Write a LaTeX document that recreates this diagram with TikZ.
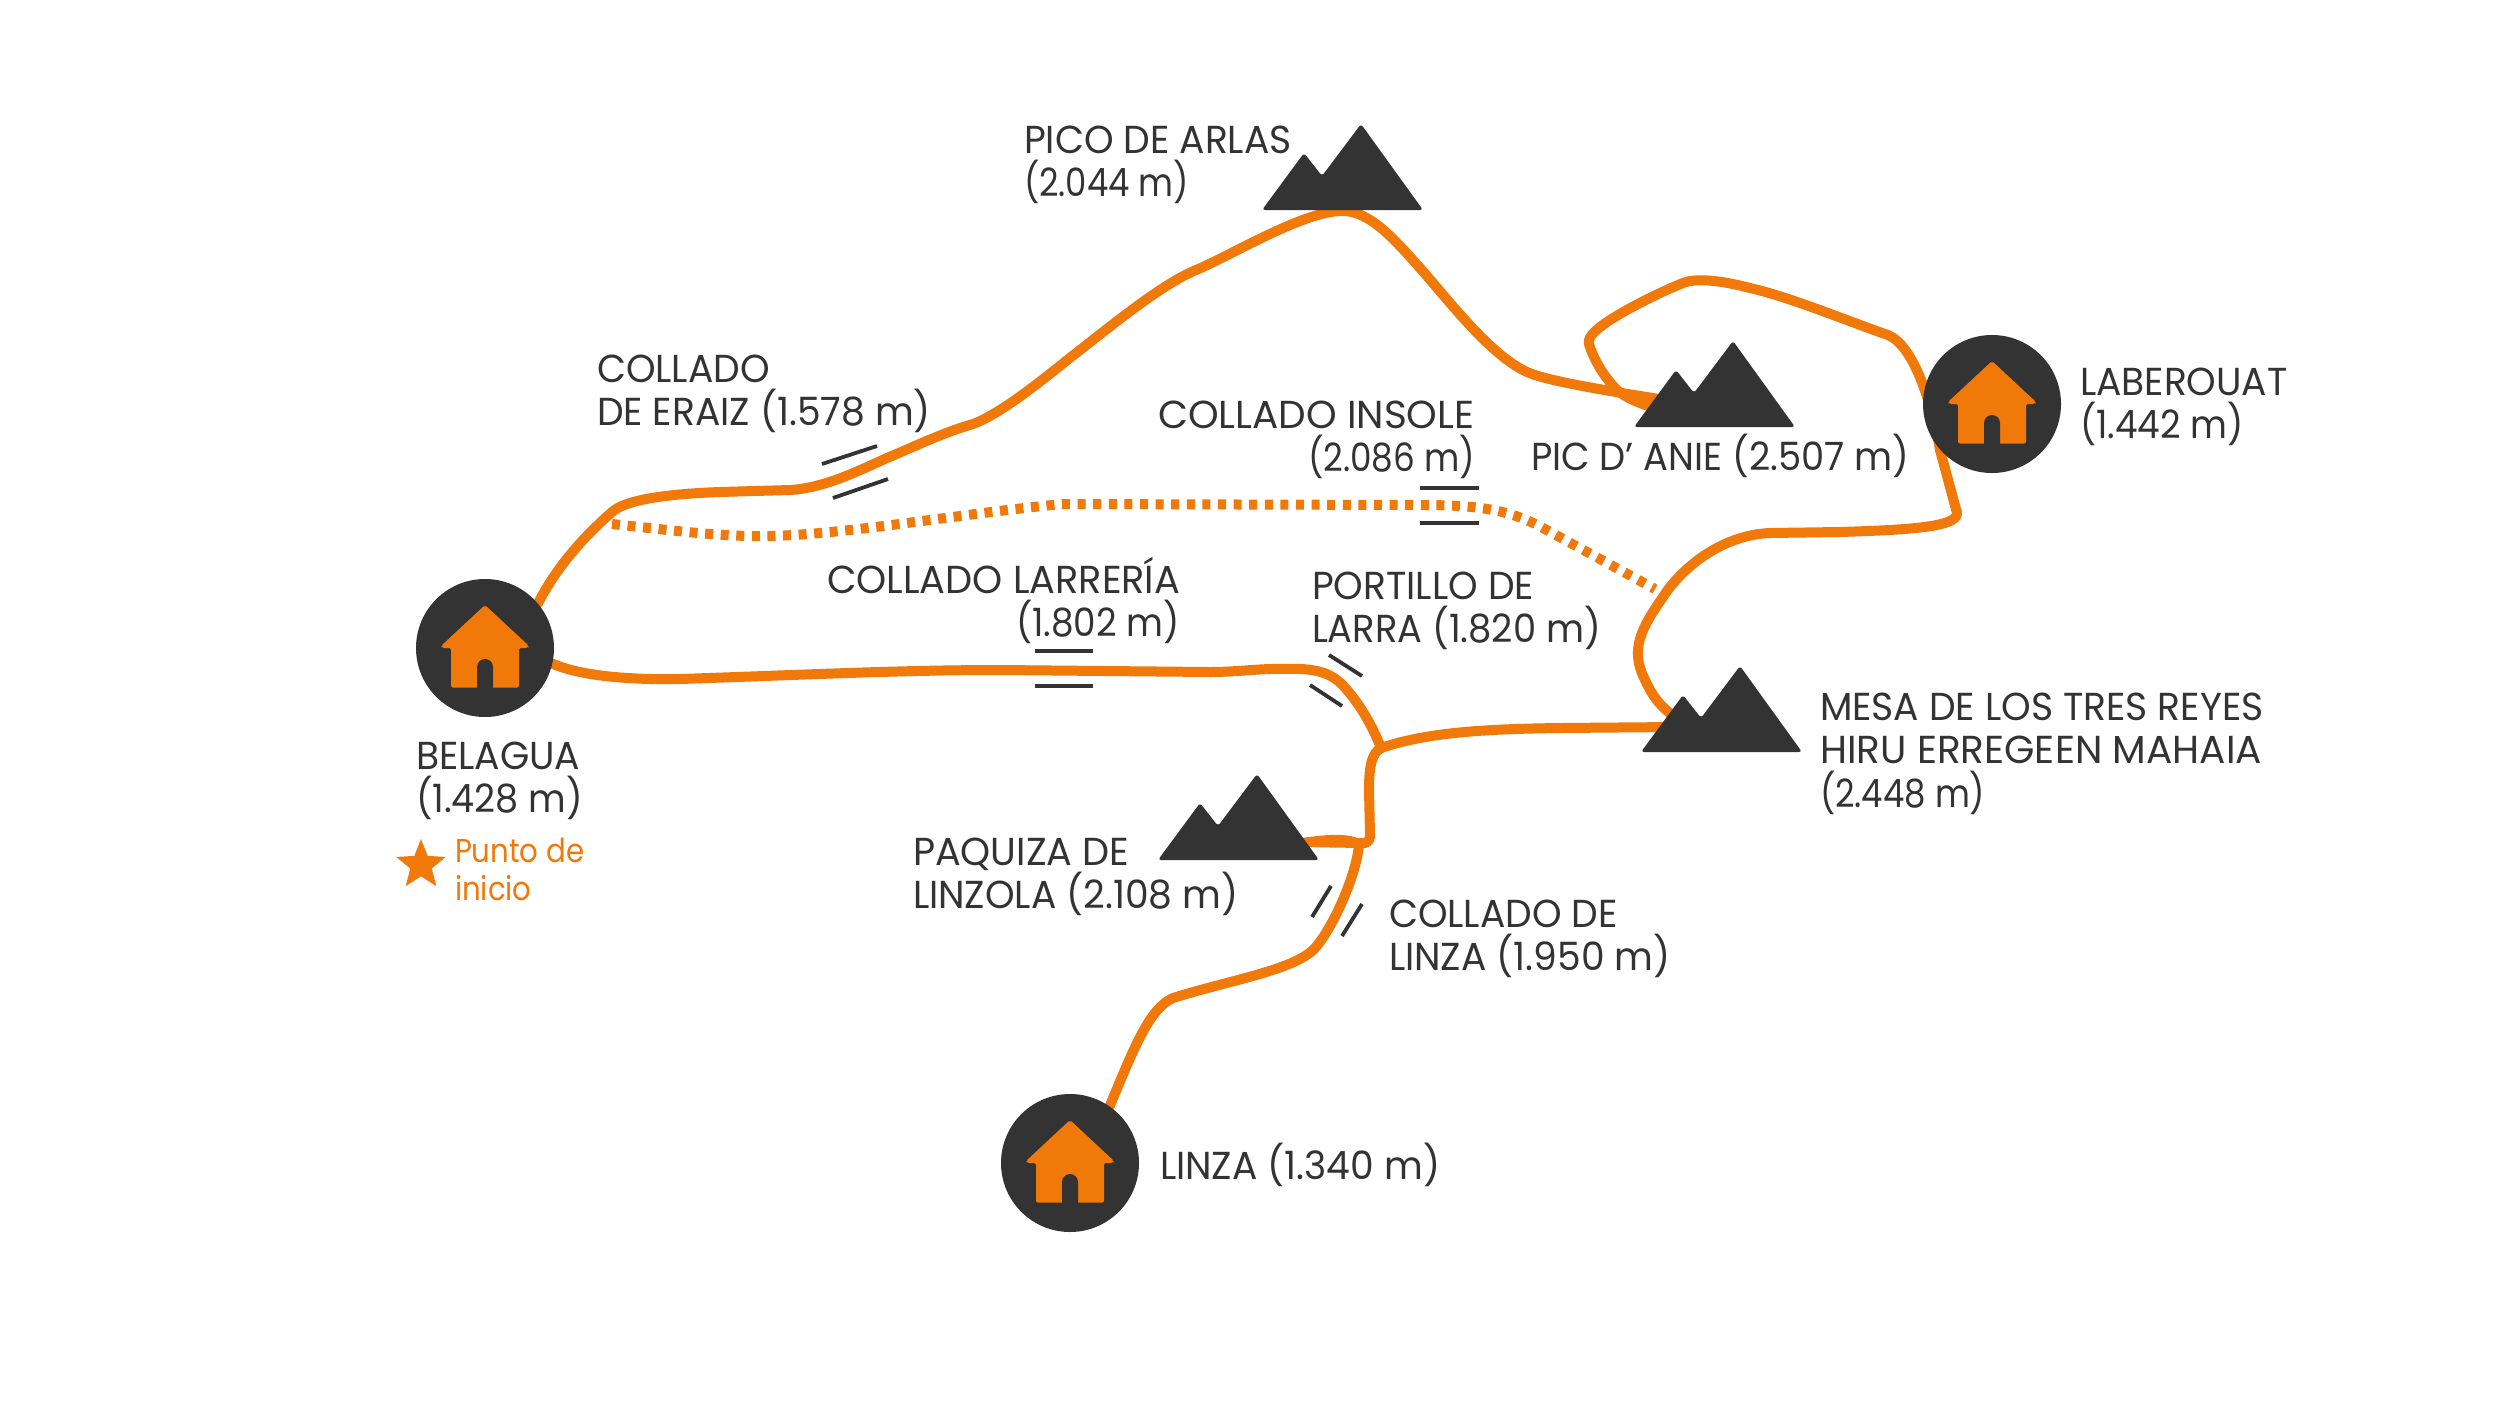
\documentclass[tikz,border=0pt]{standalone}
\usepackage{fontspec}
\usepackage{graphicx}
\usetikzlibrary{backgrounds,shapes.geometric}
\setmainfont[FakeStretch=0.965]{Poppins}
\newfontfamily\startfont[FakeStretch=0.885]{Poppins}
\definecolor{routeor}{HTML}{F0790A}
\definecolor{darkgr}{HTML}{333333}
\newcommand{\sx}[2]{\scalebox{#1}[1]{#2}}
\newcommand{\twolines}[2]{\vtop{\baselineskip=43.5pt\hbox{#1}\hbox{#2}}}
\newcommand{\threelines}[3]{\vtop{\baselineskip=43.5pt\hbox{#1}\hbox{#2}\hbox{#3}}}
\tikzset{
  lbl/.style={anchor=base west,inner sep=0pt,outer sep=0pt,text=darkgr,font=\fontsize{39}{43.5}\selectfont},
  startlbl/.style={anchor=base west,inner sep=0pt,outer sep=0pt,text=routeor,font=\startfont\fontsize{33}{38}\selectfont},
  disc/.style={circle,fill=darkgr,minimum size=138pt,inner sep=0pt,outer sep=0pt},
  routeline/.style={draw=routeor,line width=10pt,line join=round,line cap=round},
  dotline/.style={draw=routeor,line width=10pt,dash pattern=on 8pt off 7.6pt},
  tickline/.style={draw=darkgr,line width=3.8pt},
  housepic/.pic={
    \fill[routeor,rounded corners=2pt] (0,-43) -- (44,-2) -- (43,0) -- (34,0) -- (34,39.5) -- (-34,39.5) -- (-34,0) -- (-43,0) -- (-44,-2) -- cycle;
    \fill[darkgr] (-8,41) -- (-8,19) arc[start angle=180,end angle=360,radius=8] -- (8,41) -- cycle;
  },
  mountpic/.pic={
    \fill[darkgr,rounded corners=3pt] (-2,1) -- (40,-56) -- (58,-33) -- (97,-85) -- (159,1) -- cycle;
  }
}
\begin{document}
\begin{tikzpicture}[x=1pt,y=-1pt]
\useasboundingbox (0,0) rectangle (2500,1406);
% places
\node[disc] (belagua) at (485,648) {};
\node[disc] (laberouat) at (1992,404) {};
\node[disc] (linza) at (1070,1163) {};
\pic at (belagua) {housepic};
\pic at (laberouat) {housepic};
\pic at (linza) {housepic};
\coordinate (arlasM) at (1264,209);
\coordinate (anieM) at (1636,426);
\coordinate (mesaM) at (1643,751);
\coordinate (paquizaM) at (1160,859);
\pic at (arlasM) {mountpic};
\pic at (anieM) {mountpic};
\pic at (mesaM) {mountpic};
\pic at (paquizaM) {mountpic};
\coordinate (arlasTop) at (1343,211);
\coordinate (anieIn) at (1665,400);
\coordinate (anieLow) at (1660,410);
\coordinate (mesaIn) at (1680,720);
\coordinate (mesaIn2) at (1675,727);
\coordinate (junction) at (1381,748);
\coordinate (paquizaIn) at (1359,843);
\coordinate (dotStart) at (612,524);
\coordinate (dotEnd) at (1655,589);
% routes
\begin{scope}[on background layer]
\fill[white] (0,0) rectangle (2500,1406);
\draw[routeline] (belagua.40) .. controls (555,570) and (580,540) .. (612,512)
  .. controls (625,500) and (665,494) .. (720,492) -- (790,490)
  .. controls (825,488) and (860,470) .. (887,458)
  .. controls (920,444) and (945,432) .. (973,424)
  .. controls (1000,414) and (1040,382) .. (1071,357)
  .. controls (1110,327) and (1160,285) .. (1196,270)
  .. controls (1230,256) and (1305,210) .. (arlasTop)
  .. controls (1370,211) and (1395,240) .. (1420,268)
  .. controls (1450,302) and (1490,355) .. (1527,372)
  .. controls (1545,380) and (1590,388) .. (anieIn);
\draw[routeline] (anieLow) .. controls (1635,402) and (1625,397) .. (1617,390)
  .. controls (1605,378) and (1595,362) .. (1590,347)
  .. controls (1585,338) and (1595,330) .. (1610,320)
  .. controls (1630,307) and (1665,290) .. (1683,283)
  .. controls (1695,278) and (1720,280) .. (1750,288)
  .. controls (1790,297) and (1850,322) .. (1888,335)
  .. controls (1912,345) and (1930,395) .. (1940,450) -- (1957,513)
  .. controls (1958,528) and (1900,530) .. (1840,532) -- (1770,533)
  .. controls (1720,535) and (1680,570) .. (1663,597)
  .. controls (1640,630) and (1630,650) .. (1645,680)
  .. controls (1652,695) and (1660,708) .. (mesaIn);
\draw[routeline] (mesaIn2) -- (1560,728) .. controls (1480,729) and (1425,733) .. (junction);
\draw[routeline] (belagua.-13) .. controls (580,676) and (630,680) .. (680,679)
  .. controls (800,675) and (900,670) .. (1000,670) -- (1210,672)
  .. controls (1240,672) and (1260,668) .. (1290,669)
  .. controls (1320,668) and (1335,675) .. (1347,690)
  .. controls (1360,705) and (1372,725) .. (junction);
\draw[routeline] (junction) .. controls (1372,753) and (1369,765) .. (1369,790) -- (1370,835) .. controls (1370,843) and (1365,844) .. (paquizaIn);
\fill[routeor] (1300,838) .. controls (1320,836) and (1345,831) .. (1362,840) -- (1362,848) -- (1300,847) -- cycle;
\draw[routeline] (paquizaIn) .. controls (1358,870) and (1335,925) .. (1315,948)
  .. controls (1295,970) and (1230,980) .. (1173,998)
  .. controls (1150,1008) and (1135,1045) .. (linza.55);
\draw[dotline] (dotStart) .. controls (670,530) and (720,537) .. (770,536)
  .. controls (850,534) and (950,515) .. (1062,504) -- (1420,505)
  .. controls (1480,505) and (1510,510) .. (1543,528) -- (dotEnd);
\end{scope}
% pass ticks
\draw[tickline] (822,464) -- (877,446);
\draw[tickline] (833,498) -- (888,479);
\draw[tickline] (1420,488) -- (1479,488);
\draw[tickline] (1420,523) -- (1479,523);
\draw[tickline] (1035,651) -- (1093,651);
\draw[tickline] (1035,686) -- (1093,686);
\draw[tickline] (1329,655) -- (1362,676);
\draw[tickline] (1310,685) -- (1342,706);
\draw[tickline] (1331,886) -- (1312,917);
\draw[tickline] (1362,904) -- (1342,936);
% star
\node[star,star points=5,star point ratio=2.3,fill=routeor,minimum size=52pt,inner sep=0pt] (startstar) at (421,865) {};
% labels
\node[lbl] (tbelagua) at (416,769) {\twolines{BELAGUA}{\sx{0.97}{(1.428 m)}}};
\node[startlbl] (tstart) at (455,862) {\vtop{\baselineskip=38pt\hbox{Punto de}\hbox{inicio}}};
\node[lbl] (teraiz) at (597,382) {\twolines{COLLADO}{DE ERAIZ (1.578 m)}};
\node[lbl] (tarlas) at (1024,153) {\twolines{PICO DE ARLAS}{\sx{0.9}{(2.044 m)}}};
\node[lbl] (tinsole) at (1158,428) {\twolines{\sx{1.035}{COLLADO INSOLE}}{\kern150pt\sx{0.91}{(2.086 m)}}};
\node[lbl] (tanie) at (1531,470) {\sx{0.98}{PIC D’ ANIE (2.507 m)}};
\node[lbl] (tlaberouat) at (2080,395) {\twolines{LABEROUAT}{\sx{0.95}{(1.442 m)}}};
\node[lbl] (tlarreria) at (827,593) {\twolines{\sx{1.018}{COLLADO LARRERÍA}}{\kern189pt\sx{0.95}{(1.802 m)}}};
\node[lbl] (tportillo) at (1312,599) {\twolines{PORTILLO DE}{\sx{0.98}{LARRA (1.820 m)}}};
\node[lbl] (tmesa) at (1820,720) {\threelines{MESA DE LOS TRES REYES}{\sx{1.037}{HIRU ERREGEEN MAHAIA}}{\sx{0.9}{(2.448 m)}}};
\node[lbl] (tpaquiza) at (913,865) {\twolines{\sx{1.015}{PAQUIZA DE}}{LINZOLA (2.108 m)}};
\node[lbl] (tcollinza) at (1389,927) {\twolines{COLLADO DE}{LINZA (1.950 m)}};
\node[lbl] (tlinza) at (1160,1179) {LINZA (1.340 m)};
\end{tikzpicture}
\end{document}
